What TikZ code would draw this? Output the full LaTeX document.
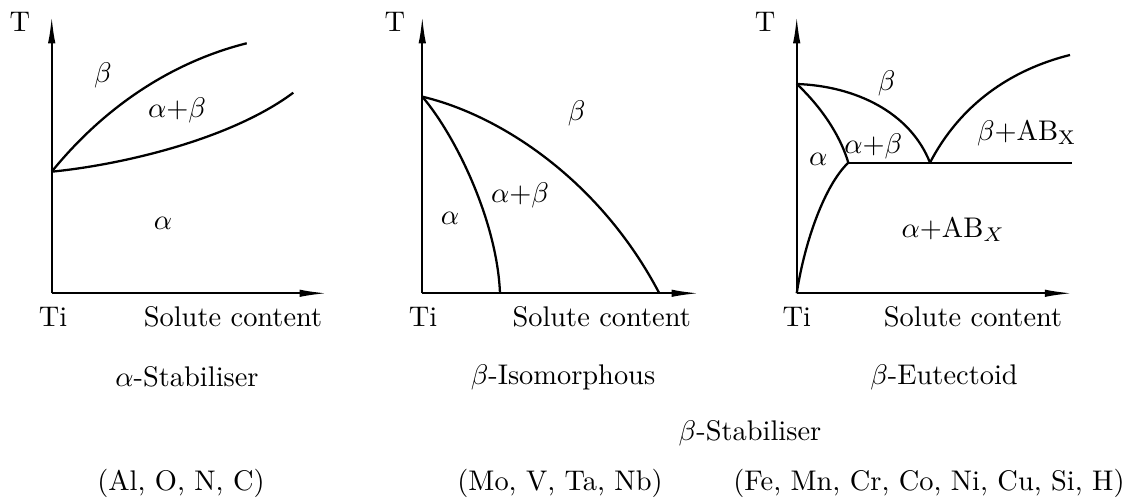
\documentclass[tikz,border=0pt]{standalone}
\usetikzlibrary{arrows.meta}
\begin{document}
\begin{tikzpicture}[x=0.352pt,y=0.352pt,
  axis/.style={line width=0.8pt,-{Latex[length=10pt,width=2.6pt]}},
  curve/.style={line width=0.8pt},
  lbl/.style={inner sep=0pt}]
\useasboundingbox (0,0) rectangle (1127,500);
% ---------- Diagram 1 ----------
\coordinate (o1) at (51.7,206.7);
\coordinate (y1) at (51.7,485);
\coordinate (x1) at (328,206.7);
\coordinate (p1) at (51.7,328.3);
\coordinate (u1) at (246.7,456.7);
\coordinate (l1) at (293.3,407.3);
\draw[axis] (o1) -- (y1);
\draw[axis] (o1) -- (x1);
\draw[curve] (p1) .. controls (110,400) and (180,440) .. (u1);
\draw[curve] (p1) .. controls (120,335) and (230,360) .. (l1);
\node[lbl] (t1) at (20,478) {T};
\node[lbl] (ti1) at (53,183) {Ti};
\node[lbl] (sc1) at (233,183) {Solute content};
\node[lbl] (b1) at (103,425) {$\beta$};
\node[lbl] (ab1) at (177,390) {$\alpha{+}\beta$};
\node[lbl] (a1) at (163,277) {$\alpha$};
% ---------- Diagram 2 ----------
\coordinate (o2) at (422.3,206.7);
\coordinate (y2) at (422.3,485);
\coordinate (x2) at (700,206.7);
\coordinate (p2) at (422.3,403.3);
\coordinate (i2) at (500,206.7);
\coordinate (e2) at (659.3,206.7);
\draw[axis] (o2) -- (y2);
\draw[axis] (o2) -- (x2);
\draw[curve] (p2) .. controls (455,365) and (497,280) .. (i2);
\draw[curve] (p2) .. controls (500,385) and (600,320) .. (e2);
\node[lbl] (t2) at (395,478) {T};
\node[lbl] (ti2) at (423,183) {Ti};
\node[lbl] (sc2) at (601.7,183) {Solute content};
\node[lbl] (b2) at (576.7,387) {$\beta$};
\node[lbl] (ab2) at (520,305) {$\alpha{+}\beta$};
\node[lbl] (a2) at (450,282) {$\alpha$};
% ---------- Diagram 3 ----------
\coordinate (o3) at (796.7,206.7);
\coordinate (y3) at (796.7,485);
\coordinate (x3) at (1073.3,206.7);
\coordinate (p3) at (796.7,416);
\coordinate (q3) at (848.3,337.3);
\coordinate (e3) at (930,337.3);
\coordinate (h3) at (1071.7,337.3);
\coordinate (r3) at (1070,445);
\draw[axis] (o3) -- (y3);
\draw[axis] (o3) -- (x3);
\draw[curve] (p3) .. controls (813,401) and (838,372) .. (q3);
\draw[curve] (o3) .. controls (805,260) and (825,315) .. (q3);
\draw[curve] (q3) -- (h3);
\draw[curve] (p3) .. controls (855,414) and (910,388) .. (e3);
\draw[curve] (e3) .. controls (960,395) and (1010,430) .. (r3);
\node[lbl] (t3) at (765,478) {T};
\node[lbl] (ti3) at (796.7,183) {Ti};
\node[lbl] (sc3) at (973,183) {Solute content};
\node[lbl] (b3) at (886.7,417) {$\beta$};
\node[lbl] (ab3) at (873.3,353.3) {$\alpha{+}\beta$};
\node[lbl] (a3) at (818.3,341) {$\alpha$};
\node[lbl] (bab3) at (1026.7,367) {$\beta{+}\mathrm{AB_X}$};
\node[lbl] (aab3) at (953.3,270) {$\alpha{+}\mathrm{AB}_X$};
% ---------- Captions ----------
\node[lbl] (cap1) at (187,123) {$\alpha$-Stabiliser};
\node[lbl] (cap2) at (563,123) {$\beta$-Isomorphous};
\node[lbl] (cap3) at (944,123) {$\beta$-Eutectoid};
\node[lbl] (capb) at (750,67) {$\beta$-Stabiliser};
\node[lbl] (el1) at (181,17) {(Al, O, N, C)};
\node[lbl] (el2) at (560,17) {(Mo, V, Ta, Nb)};
\node[lbl] (el3) at (929,17) {(Fe, Mn, Cr, Co, Ni, Cu, Si, H)};
\end{tikzpicture}
\end{document}
